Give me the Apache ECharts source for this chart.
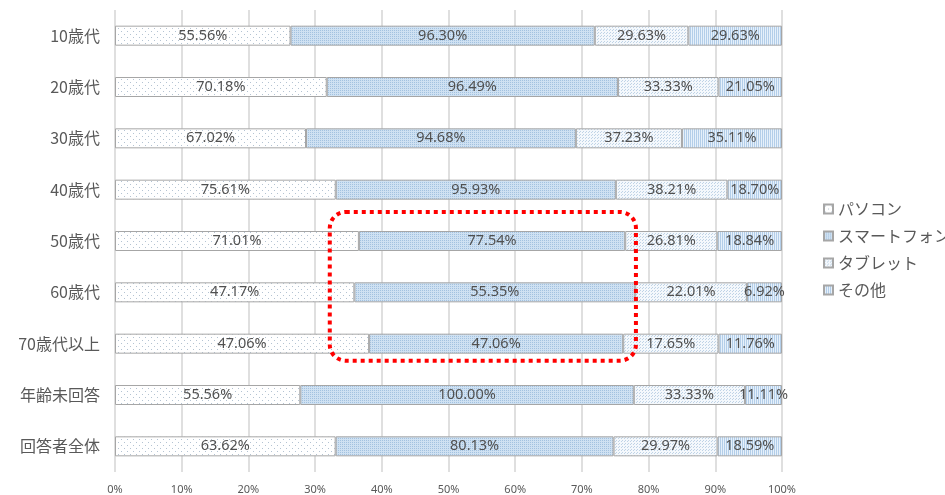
<!DOCTYPE html>
<html>
<head>
<meta charset="utf-8">
<script src="https://cdn.jsdelivr.net/npm/echarts@6/dist/echarts.min.js"></script>
<style>
  html, body { margin: 0; padding: 0; background: #fff; }
  #chart { width: 945px; height: 495px; }
</style>
</head>
<body>
<div id="chart"></div>
<script>
// age groups, top to bottom
const categories = ['10歳代', '20歳代', '30歳代', '40歳代', '50歳代', '60歳代', '70歳代以上', '年齢未回答', '回答者全体']
const seriesNames = ['パソコン', 'スマートフォン', 'タブレット', 'その他']

// raw percentages (multiple answers), shown in the labels
const pc     = [55.56, 70.18, 67.02, 75.61, 71.01, 47.17, 47.06, 55.56, 63.62]
const phone  = [96.30, 96.49, 94.68, 95.93, 77.54, 55.35, 47.06, 100.00, 80.13]
const tablet = [29.63, 33.33, 37.23, 38.21, 26.81, 22.01, 17.65, 33.33, 29.97]
const other  = [29.63, 21.05, 35.11, 18.70, 18.84, 6.92, 11.76, 11.11, 18.59]

const xTicks = [0, 10, 20, 30, 40, 50, 60, 70, 80, 90, 100]

const font = "'Noto Sans', 'Noto Sans CJK JP', sans-serif"
const jpFont = "'Noto Sans CJK JP', sans-serif"

// small tiles used as fill patterns
function makeTile(size, bg, draw) {
  const c = document.createElement('canvas')
  c.width = size
  c.height = size
  const ctx = c.getContext('2d')
  ctx.fillStyle = bg
  ctx.fillRect(0, 0, size, size)
  draw(ctx)
  return c
}

const patterns = [
  // sparse dots
  makeTile(6, '#ffffff', ctx => {
    ctx.fillStyle = '#b4c3d2'
    ctx.fillRect(1, 1, 1, 1)
    ctx.fillRect(4, 4, 1, 1)
  }),
  // checker hatch
  makeTile(4, '#cfe1f2', ctx => {
    ctx.fillStyle = '#a3c2e0'
    ctx.fillRect(0, 0, 1, 1)
    ctx.fillRect(2, 2, 1, 1)
    ctx.fillRect(2, 0, 1, 1)
    ctx.fillRect(0, 2, 1, 1)
  }),
  // fine dots
  makeTile(3, '#f4f8fc', ctx => {
    ctx.fillStyle = '#bfd3e6'
    ctx.fillRect(0, 0, 1, 1)
    ctx.fillRect(1, 2, 1, 1)
  }),
  // vertical stripes
  makeTile(2, '#e6f0fa', ctx => {
    ctx.fillStyle = '#b3cee9'
    ctx.fillRect(0, 0, 1, 2)
  })
]

const rawData = [pc, phone, tablet, other]
const totals = categories.map((_, i) => pc[i] + phone[i] + tablet[i] + other[i])

const series = rawData.map((arr, s) => ({
  name: seriesNames[s],
  type: 'bar',
  stack: 'total',
  barWidth: 20,
  data: arr.map((v, i) => ({ value: v / totals[i] * 100, raw: v })),
  itemStyle: {
    color: { image: patterns[s], repeat: 'repeat' },
    borderColor: '#a6a6a6',
    borderWidth: 1
  },
  label: {
    show: true,
    position: 'inside',
    color: '#505050',
    fontSize: 14.5,
    fontFamily: font,
    formatter: p => p.data.raw.toFixed(2) + '%'
  },
  emphasis: { disabled: true }
}))

const chart = echarts.init(document.getElementById('chart'))

chart.setOption({
  animation: false,
  textStyle: { fontFamily: font },
  grid: {
    left: 115,
    right: 163,
    top: 10,
    bottom: 22
  },
  legend: {
    orient: 'vertical',
    left: 818,
    top: 196,
    itemWidth: 9,
    itemHeight: 9,
    itemGap: 11,
    icon: 'rect',
    textStyle: { color: '#595959', fontSize: 16, fontFamily: jpFont },
    data: seriesNames
  },
  xAxis: {
    type: 'value',
    min: 0,
    max: 100,
    interval: 10,
    axisLine: { show: false },
    axisTick: { show: false },
    splitLine: { lineStyle: { color: '#d4d4d4', width: 1.5 } },
    axisLabel: {
      color: '#595959',
      fontSize: 11,
      margin: 12,
      formatter: v => (xTicks.includes(v) ? v + '%' : '')
    }
  },
  yAxis: {
    type: 'category',
    inverse: true,
    data: categories,
    axisLine: { show: false },
    axisTick: { show: false },
    axisLabel: {
      color: '#595959',
      fontSize: 16,
      margin: 15,
      fontFamily: jpFont
    }
  },
  series
})

// red dotted callout around 50歳代–70歳代以上 smartphone segments
const p1 = chart.convertToPixel({ xAxisIndex: 0, yAxisIndex: 0 }, [32.2, categories[4]])
const p2 = chart.convertToPixel({ xAxisIndex: 0, yAxisIndex: 0 }, [78.1, categories[6]])
chart.setOption({
  graphic: [{
    type: 'rect',
    shape: { x: p1[0], y: p1[1] - 29, width: p2[0] - p1[0], height: p2[1] - p1[1] + 46, r: 16 },
    style: { fill: 'none', stroke: '#ff0000', lineWidth: 4, lineDash: [4, 4] },
    z: 100
  }]
})
</script>
</body>
</html>
